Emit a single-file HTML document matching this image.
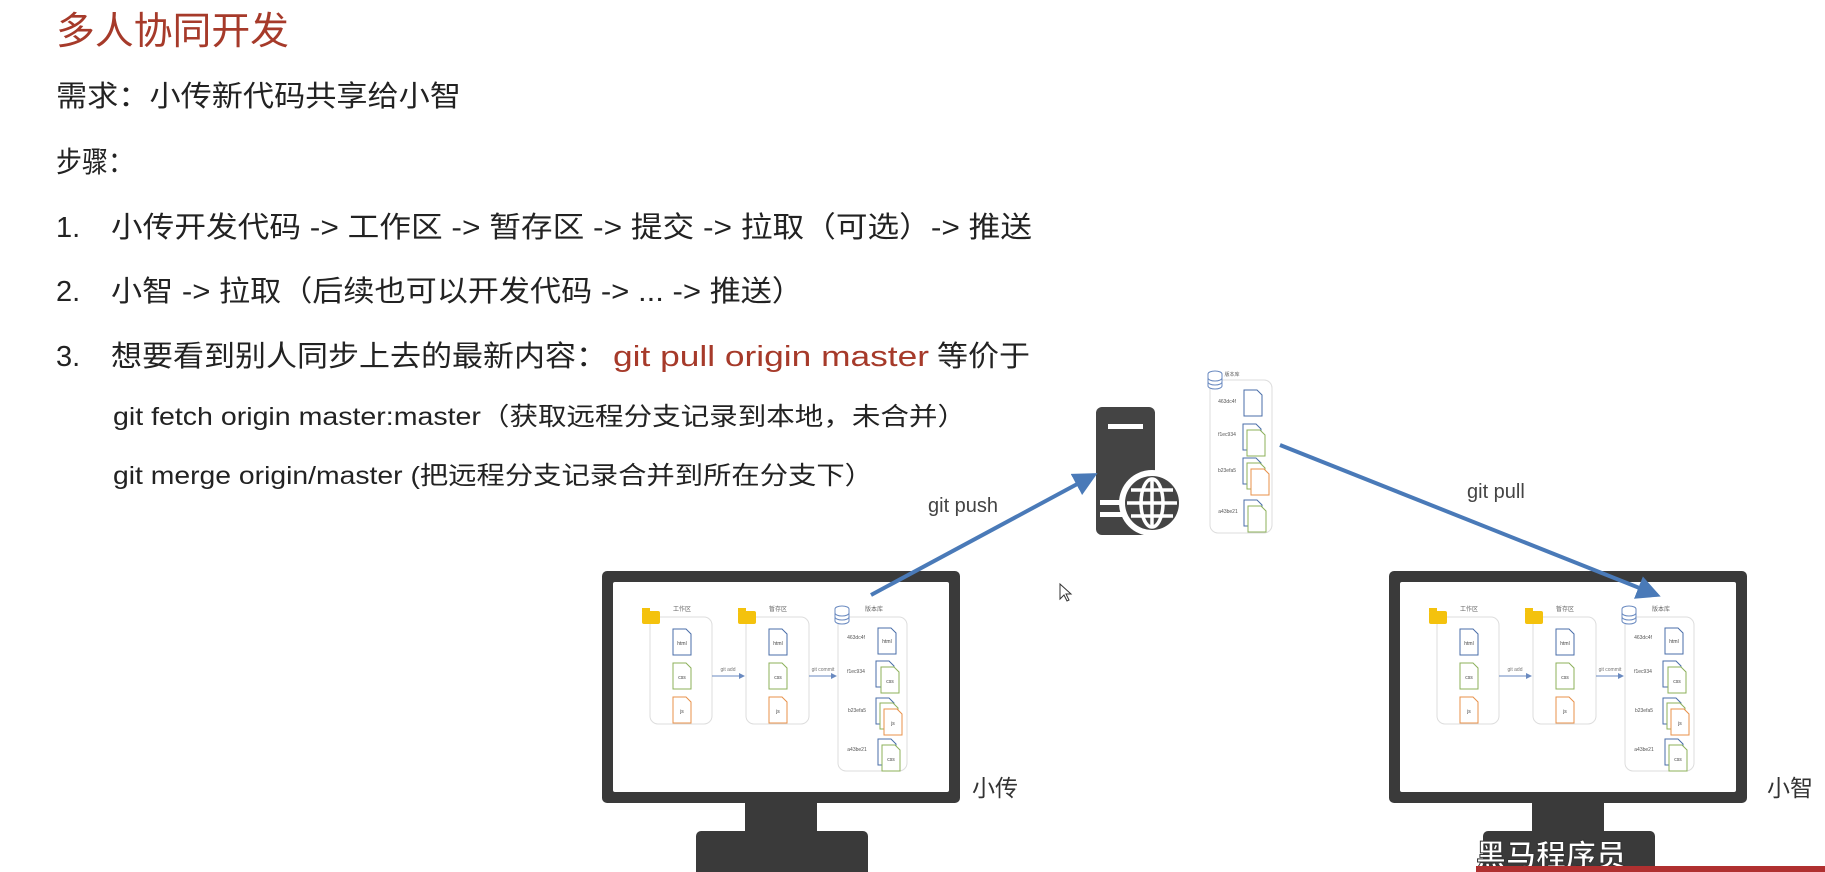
<!DOCTYPE html>
<html><head><meta charset="utf-8"><style>
html,body{margin:0;padding:0;background:#fff;}
svg{display:block;}
text{font-family:"Liberation Sans","Noto Sans CJK SC",sans-serif;}
</style></head><body>
<svg width="1825" height="872" viewBox="0 0 1825 872" xmlns="http://www.w3.org/2000/svg">
<defs>
<marker id="ah" markerWidth="6" markerHeight="6" refX="5" refY="3" orient="auto" markerUnits="strokeWidth">
<path d="M0,0 L6,3 L0,6 z" fill="#4a7ab8"/></marker>
<marker id="sa" markerWidth="6" markerHeight="6" refX="5" refY="3" orient="auto" markerUnits="strokeWidth">
<path d="M0,0 L6,3 L0,6 z" fill="#6a8ac0"/></marker>
<g id="file"><path d="M0,0 h13 l5,5 v21 h-18 z" fill="#fff"/></g>
<g id="scr">
  <!-- box1 -->
  <text x="80" y="40" font-size="6" fill="#666" text-anchor="middle">工作区</text>
  <rect x="48" y="46" width="62" height="107" rx="8" fill="#fff" stroke="#ddd"/>
  <rect x="40" y="40" width="18" height="13" rx="2" fill="#f4c20d"/>
  <rect x="40" y="37" width="8" height="4" fill="#f4c20d"/>
  <path d="M71,58 h13 l5,5 v21 h-18 z" fill="#fff" stroke="#4a6ea8"/>
  <text x="80" y="74" font-size="5" fill="#444" text-anchor="middle">html</text>
  <path d="M71,92 h13 l5,5 v21 h-18 z" fill="#fff" stroke="#8cb05a"/>
  <text x="80" y="108" font-size="5" fill="#444" text-anchor="middle">css</text>
  <path d="M71,126 h13 l5,5 v21 h-18 z" fill="#fff" stroke="#e8914a"/>
  <text x="80" y="142" font-size="5" fill="#444" text-anchor="middle">js</text>
  <line x1="110" y1="105" x2="142" y2="105" stroke="#6a8ac0" stroke-width="1" marker-end="url(#sa)"/>
  <text x="126" y="100" font-size="5" fill="#777" text-anchor="middle">git add</text>
  <!-- box2 -->
  <text x="176" y="40" font-size="6" fill="#666" text-anchor="middle">暂存区</text>
  <rect x="144" y="46" width="63" height="107" rx="8" fill="#fff" stroke="#ddd"/>
  <rect x="136" y="40" width="18" height="13" rx="2" fill="#f4c20d"/>
  <rect x="136" y="37" width="8" height="4" fill="#f4c20d"/>
  <path d="M167,58 h13 l5,5 v21 h-18 z" fill="#fff" stroke="#4a6ea8"/>
  <text x="176" y="74" font-size="5" fill="#444" text-anchor="middle">html</text>
  <path d="M167,92 h13 l5,5 v21 h-18 z" fill="#fff" stroke="#8cb05a"/>
  <text x="176" y="108" font-size="5" fill="#444" text-anchor="middle">css</text>
  <path d="M167,126 h13 l5,5 v21 h-18 z" fill="#fff" stroke="#e8914a"/>
  <text x="176" y="142" font-size="5" fill="#444" text-anchor="middle">js</text>
  <line x1="207" y1="105" x2="234" y2="105" stroke="#6a8ac0" stroke-width="1" marker-end="url(#sa)"/>
  <text x="221" y="100" font-size="5" fill="#777" text-anchor="middle">git commit</text>
  <!-- box3 -->
  <text x="272" y="40" font-size="6" fill="#666" text-anchor="middle">版本库</text>
  <rect x="236" y="46" width="69" height="154" rx="8" fill="#fff" stroke="#ddd"/>
  <g fill="#fff" stroke="#6a8ac0" stroke-width="1">
    <ellipse cx="240" cy="38" rx="7" ry="3"/>
    <path d="M233,38 v12 a7,3 0 0 0 14,0 v-12"/>
    <path d="M233,42 a7,3 0 0 0 14,0 M233,46 a7,3 0 0 0 14,0"/>
  </g>
  <text x="254" y="68" font-size="5" fill="#555" text-anchor="middle">463dc4f</text>
  <path d="M276,57 h13 l5,5 v21 h-18 z" fill="#fff" stroke="#4a6ea8"/>
  <text x="285" y="72" font-size="5" fill="#444" text-anchor="middle">html</text>
  <text x="254" y="102" font-size="5" fill="#555" text-anchor="middle">f1ec934</text>
  <path d="M274,90 h13 l5,5 v21 h-18 z" fill="#fff" stroke="#4a6ea8"/>
  <path d="M279,96 h13 l5,5 v21 h-18 z" fill="#fff" stroke="#8cb05a"/>
  <text x="288" y="112" font-size="5" fill="#444" text-anchor="middle">css</text>
  <text x="255" y="141" font-size="5" fill="#555" text-anchor="middle">b23efa5</text>
  <path d="M274,127 h13 l5,5 v21 h-18 z" fill="#fff" stroke="#4a6ea8"/>
  <path d="M278,132 h13 l5,5 v21 h-18 z" fill="#fff" stroke="#8cb05a"/>
  <path d="M282,138 h13 l5,5 v21 h-18 z" fill="#fff" stroke="#e8914a"/>
  <text x="291" y="154" font-size="5" fill="#444" text-anchor="middle">js</text>
  <text x="255" y="180" font-size="5" fill="#555" text-anchor="middle">a43be21</text>
  <path d="M276,168 h13 l5,5 v21 h-18 z" fill="#fff" stroke="#4a6ea8"/>
  <path d="M280,174 h13 l5,5 v21 h-18 z" fill="#fff" stroke="#8cb05a"/>
  <text x="289" y="190" font-size="5" fill="#444" text-anchor="middle">css</text>
</g>
<g id="mon">
  <rect x="0" y="0" width="358" height="232" rx="5" fill="#3a3a3a"/>
  <rect x="11" y="11" width="336" height="210" rx="2" fill="#fff"/>
  <rect x="143" y="232" width="72" height="30" fill="#3a3a3a"/>
  <rect x="94" y="260" width="172" height="50" rx="5" fill="#3a3a3a"/>
</g>
</defs>

<!-- Text -->
<text x="56" y="44" font-size="38" fill="#a63a2a" textLength="233" lengthAdjust="spacingAndGlyphs">多人协同开发</text>
<text x="56" y="106" font-size="29" fill="#222" textLength="405" lengthAdjust="spacingAndGlyphs">需求：小传新代码共享给小智</text>
<text x="56" y="172" font-size="29" fill="#222" textLength="78" lengthAdjust="spacingAndGlyphs">步骤：</text>
<text x="56" y="237" font-size="29" fill="#222">1.</text>
<text x="111" y="237" font-size="29" fill="#222" textLength="921" lengthAdjust="spacingAndGlyphs">小传开发代码 -&gt; 工作区 -&gt; 暂存区 -&gt; 提交 -&gt; 拉取（可选）-&gt; 推送</text>
<text x="56" y="301" font-size="29" fill="#222">2.</text>
<text x="111" y="301" font-size="29" fill="#222" textLength="692" lengthAdjust="spacingAndGlyphs">小智 -&gt; 拉取（后续也可以开发代码 -&gt; ... -&gt; 推送）</text>
<text x="56" y="366" font-size="29" fill="#222">3.</text>
<text x="111" y="366" font-size="29" fill="#222" textLength="496" lengthAdjust="spacingAndGlyphs">想要看到别人同步上去的最新内容：</text>
<text x="613" y="366" font-size="29" fill="#a63a2a" textLength="316" lengthAdjust="spacingAndGlyphs">git pull origin master</text>
<text x="937" y="366" font-size="29" fill="#222" textLength="93" lengthAdjust="spacingAndGlyphs">等价于</text>
<text x="113" y="425" font-size="25" fill="#222" textLength="853" lengthAdjust="spacingAndGlyphs">git fetch origin master:master（获取远程分支记录到本地，未合并）</text>
<text x="113" y="484" font-size="25" fill="#222" textLength="760" lengthAdjust="spacingAndGlyphs">git merge origin/master (把远程分支记录合并到所在分支下）</text>

<!-- Monitors -->
<use href="#mon" x="602" y="571"/>
<use href="#scr" x="602" y="571"/>
<text x="972" y="796" font-size="23" fill="#333">小传</text>
<use href="#mon" x="1389" y="571"/>
<use href="#scr" x="1389" y="571"/>
<text x="1767" y="796" font-size="23" fill="#333">小智</text>

<!-- Server -->
<rect x="1096" y="407" width="59" height="128" rx="6" fill="#444"/>
<rect x="1108" y="424" width="35" height="5" fill="#fff"/>
<rect x="1100" y="500" width="30" height="5" fill="#fff"/>
<rect x="1100" y="512" width="30" height="5" fill="#fff"/>
<circle cx="1152" cy="503" r="33" fill="#fff"/>
<circle cx="1152" cy="503" r="27" fill="#444"/>
<g stroke="#fff" stroke-width="3.5" fill="none">
  <ellipse cx="1152" cy="503" rx="11" ry="24"/>
  <line x1="1152" y1="479" x2="1152" y2="527"/>
  <line x1="1127" y1="503" x2="1177" y2="503"/>
  <line x1="1131" y1="490" x2="1173" y2="490"/>
  <line x1="1131" y1="516" x2="1173" y2="516"/>
</g>

<!-- Remote repo -->
<text x="1232" y="376" font-size="5" fill="#666" text-anchor="middle">版本库</text>
<rect x="1210" y="380" width="62" height="153" rx="8" fill="#fff" stroke="#ddd"/>
<g fill="#fff" stroke="#6a8ac0" stroke-width="1">
  <ellipse cx="1215" cy="374" rx="7" ry="3"/>
  <path d="M1208,374 v12 a7,3 0 0 0 14,0 v-12"/>
  <path d="M1208,378 a7,3 0 0 0 14,0 M1208,382 a7,3 0 0 0 14,0"/>
</g>
<text x="1227" y="403" font-size="5" fill="#555" text-anchor="middle">463dc4f</text>
<path d="M1244,390 h13 l5,5 v21 h-18 z" fill="#fff" stroke="#4a6ea8"/>
<text x="1227" y="436" font-size="5" fill="#555" text-anchor="middle">f1ec934</text>
<path d="M1243,424 h13 l5,5 v21 h-18 z" fill="#fff" stroke="#4a6ea8"/>
<path d="M1247,430 h13 l5,5 v21 h-18 z" fill="#fff" stroke="#8cb05a"/>
<text x="1227" y="472" font-size="5" fill="#555" text-anchor="middle">b23efa5</text>
<path d="M1243,458 h13 l5,5 v21 h-18 z" fill="#fff" stroke="#4a6ea8"/>
<path d="M1247,463 h13 l5,5 v21 h-18 z" fill="#fff" stroke="#8cb05a"/>
<path d="M1251,469 h13 l5,5 v21 h-18 z" fill="#fff" stroke="#e8914a"/>
<text x="1228" y="513" font-size="5" fill="#555" text-anchor="middle">a43be21</text>
<path d="M1244,500 h13 l5,5 v21 h-18 z" fill="#fff" stroke="#4a6ea8"/>
<path d="M1248,506 h13 l5,5 v21 h-18 z" fill="#fff" stroke="#8cb05a"/>

<!-- Arrows -->
<line x1="871" y1="595" x2="1094" y2="475" stroke="#4a7ab8" stroke-width="4" marker-end="url(#ah)"/>
<text x="928" y="512" font-size="20" fill="#444">git push</text>
<line x1="1280" y1="445" x2="1657" y2="595" stroke="#4a7ab8" stroke-width="4" marker-end="url(#ah)"/>
<text x="1467" y="498" font-size="20" fill="#444">git pull</text>

<!-- cursor -->
<path d="M1060,584 l0,15 l4,-4 l3,6 l2,-1 l-3,-6 l5,0 z" fill="#fff" stroke="#333" stroke-width="1"/>

<!-- watermark -->
<text x="1476" y="866" font-size="30" font-weight="bold" fill="#fff" stroke="#333" stroke-width="1">黑马程序员</text>
<rect x="1476" y="866" width="349" height="6" fill="#b03030"/>
</svg>
</body></html>
